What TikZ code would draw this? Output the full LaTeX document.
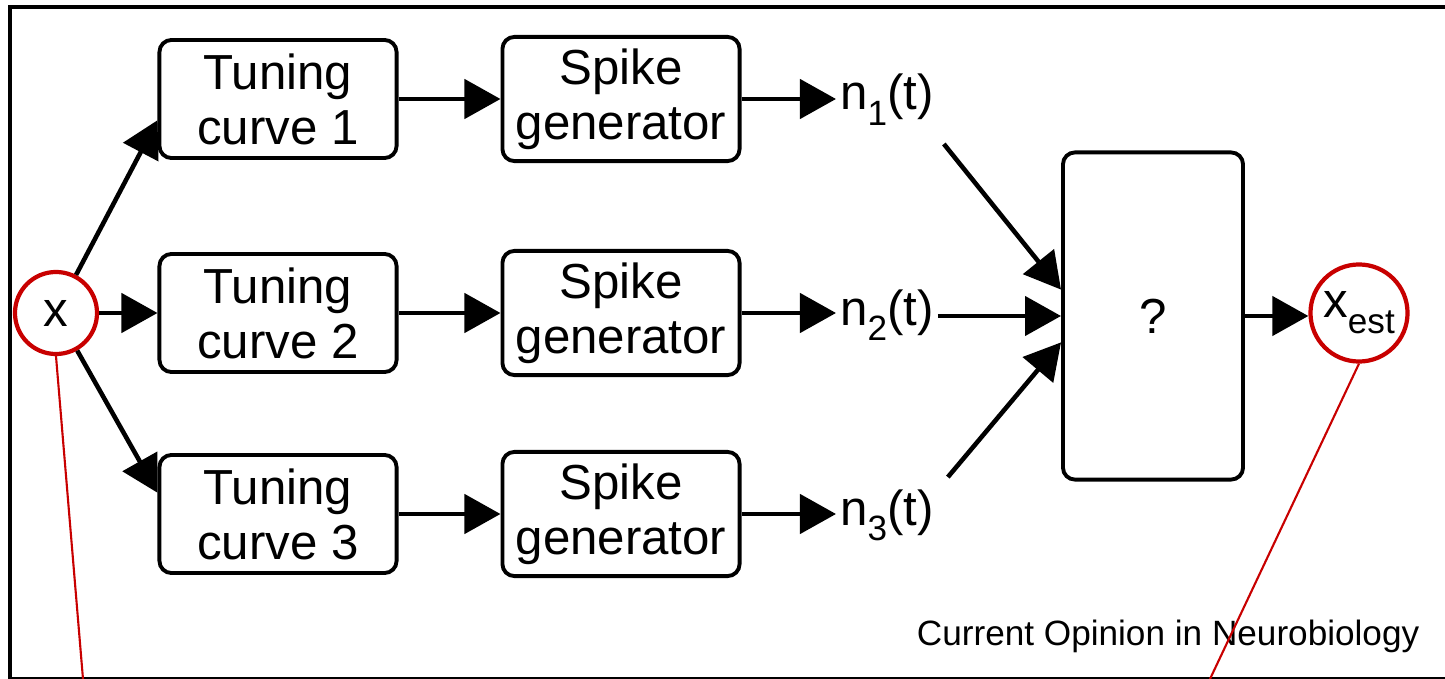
\documentclass[tikz,border=0pt]{standalone}
\usepackage{fontspec}
\setmainfont{Liberation Sans}
\usetikzlibrary{arrows.meta}
\definecolor{annot}{RGB}{200,0,0}
\newcommand{\lowidx}[1]{\raisebox{-0.32em}{\fontsize{10}{10}\selectfont #1}}

\begin{document}
\begin{tikzpicture}[x=0.01cm,y=-0.01cm,
    >={Triangle[length=0.36cm,width=0.39cm]},
    block/.style={draw,line width=1.1pt,rounded corners=0.12cm,minimum width=2.37cm,
      minimum height=1.18cm,align=center,font=\fontsize{14}{15.6}\selectfont},
    lbl/.style={font=\fontsize{14}{15.6}\selectfont,inner sep=1pt},
    ring/.style={circle,draw=annot,line width=1.2pt,inner sep=0pt,font=\fontsize{14}{15.6}\selectfont},
    conn/.style={draw,->,line width=1.3pt}]
  \useasboundingbox (0,0) rectangle (1445,679);
  % frame
  \path[draw,line width=1.4pt] (1445,7) -- (10,7) -- (10,679);
  \path[draw,line width=0.6pt] (10,678) -- (1445,678);
  % input and output
  \node[ring,minimum size=0.82cm] (x) at (56,313) {x};
  \node[ring,minimum size=0.97cm] (xest) at (1359,313) {x\lowidx{est}};
  % tuning curves and spike generators
  \node[block] (tc1) at (278,99) {Tuning\\curve 1};
  \node[block] (tc2) at (278,313) {Tuning\\curve 2};
  \node[block] (tc3) at (278,514) {Tuning\\curve 3};
  \node[block] (sg1) at (621,99) {Spike\\generator};
  \node[block] (sg2) at (621,313) {Spike\\generator};
  \node[block] (sg3) at (621,514) {Spike\\generator};
  % spike trains
  \node[lbl,anchor=base west] (n1) at (836,110) {n\lowidx{1}(t)};
  \node[lbl,anchor=base west] (n2) at (836,325) {n\lowidx{2}(t)};
  \node[lbl,anchor=base west] (n3) at (836,525) {n\lowidx{3}(t)};
  % decoder
  \node[draw,line width=1.1pt,rounded corners=0.12cm,minimum width=1.8cm,minimum height=3.27cm,
    font=\fontsize{14}{15.6}\selectfont] (q) at (1153,316) {?};
  \node[font=\fontsize{10}{12}\selectfont,anchor=base east,inner sep=0pt] (src) at (1420,645)
    {Current Opinion in Neurobiology};
  % connections
  \draw[conn] (x) -- (tc1.190);
  \draw[conn] (x) -- (tc2.west);
  \draw[conn] (x) -- (tc3.170);
  \foreach \i in {1,2,3}{
    \draw[conn] (tc\i.east) -- (sg\i.west);
    \draw[conn] (sg\i.east) -- (n\i.west |- sg\i.east);
  }
  \draw[conn] ([shift={(6,14)}]n1.south east) -- (q.164);
  \draw[conn] (n2.east |- q.west) -- (q.west);
  \draw[conn] ([shift={(10,-8)}]n3.north east) -- (q.196);
  \draw[conn] (q.east) -- (q.east -| xest.west);
  % pointers
  \coordinate (xfoot) at (83,679);
  \coordinate (estfoot) at (1210,679);
  \draw[annot,line width=0.6pt] (x.south) -- (xfoot);
  \draw[annot,line width=0.6pt] (xest.south) -- (estfoot);
\end{tikzpicture}
\end{document}
